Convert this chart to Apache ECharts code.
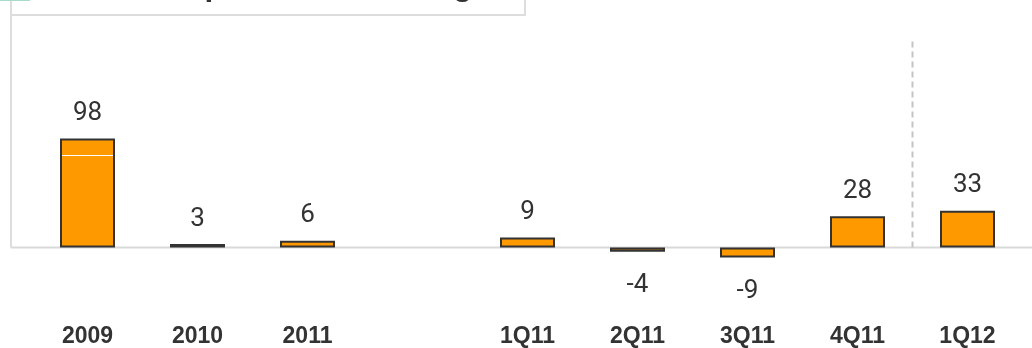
<!DOCTYPE html>
<html>
<head>
<meta charset="utf-8">
<script src="https://cdn.jsdelivr.net/npm/echarts@6/dist/echarts.min.js"></script>
<style>
html,body{margin:0;padding:0;background:#fff;}
#chart{width:1032px;height:348px;}
</style>
</head>
<body>
<div id="chart"></div>
<script>
// ---- data ----
var categories = ['2009', '2010', '2011', '', '1Q11', '2Q11', '3Q11', '4Q11', '1Q12'];
var values = [98, 3, 6, null, 9, -4, -9, 28, 33];
var whiteMark = [83, null, null, null, null, null, null, null, null];
var dividerX = [7.5, 7.5];
var dividerY = [0, 186];
var titleText = 'Results: Net profit and earnings';

var chart = echarts.init(document.getElementById('chart'), null, {renderer: 'canvas'});

var barData = values.map(function (v) {
  if (v === null) return '-';
  return {
    value: v,
    label: {position: v < 0 ? 'bottom' : 'top', distance: v < 0 ? 21 : 12}
  };
});

var option = {
  animation: false,
  backgroundColor: '#ffffff',
  grid: {left: 32.5, right: 9.5, top: 25, bottom: 63, containLabel: false},
  xAxis: [{
    type: 'category',
    data: categories,
    boundaryGap: true,
    axisLine: {show: false, onZero: false},
    axisTick: {show: false},
    splitLine: {show: false},
    axisLabel: {
      interval: 0, margin: 42,
      fontFamily: "'Liberation Sans', Arial, sans-serif",
      fontSize: 23, fontWeight: 'bold', color: '#333333'
    }
  }, {
    type: 'value', min: -0.5, max: 8.5, show: false
  }],
  yAxis: {
    type: 'value', min: -32, max: 200, show: false,
    splitLine: {show: false}
  },
  series: [{
    type: 'bar',
    data: barData,
    barWidth: 55,
    z: 3,
    itemStyle: {color: '#FF9900', borderColor: '#333333', borderWidth: 2},
    label: {
      show: true,
      fontFamily: "'Liberation Sans Narrow', 'Arial Narrow', 'Roboto', sans-serif",
      fontSize: 26, color: '#333333'
    }
  }, {
    type: 'pictorialBar',
    data: whiteMark.map(function (v) { return v === null ? '-' : v; }),
    symbol: 'rect',
    symbolSize: [51, 1],
    symbolPosition: 'end',
    itemStyle: {color: '#ffffff'},
    z: 5,
    silent: true
  }, {
    type: 'line',
    xAxisIndex: 1,
    data: [[dividerX[0], dividerY[0]], [dividerX[1], dividerY[1]]],
    symbol: 'none',
    silent: true,
    z: 1,
    lineStyle: {color: '#c4c4c4', width: 2, type: [6, 4]}
  }]
};
chart.setOption(option);

var zeroY = chart.convertToPixel({yAxisIndex: 0}, 0);
chart.setOption({
  graphic: [
    {type: 'rect', shape: {x: 11, y: -10, width: 514, height: 25},
     style: {fill: 'none', stroke: '#dddddd', lineWidth: 2}, z: 0},
    {type: 'line', shape: {x1: 11, y1: 0, x2: 11, y2: zeroY},
     style: {stroke: '#dddddd', lineWidth: 2}, z: 0},
    {type: 'line', shape: {x1: 11, y1: zeroY, x2: 1032, y2: zeroY},
     style: {stroke: '#d9d9d9', lineWidth: 2}, z: 0},
    {type: 'rect', shape: {x: 0, y: 0, width: 30, height: 1},
     style: {fill: '#a8dcc8'}, z: 0},
    {type: 'text', x: 12, y: -13.6,
     style: {text: titleText, fill: '#333333', font: "bold 31.5px 'Liberation Sans', Arial, sans-serif",
             verticalAlign: 'middle', align: 'left'}, z: 0}
  ]
});
</script>
</body>
</html>
